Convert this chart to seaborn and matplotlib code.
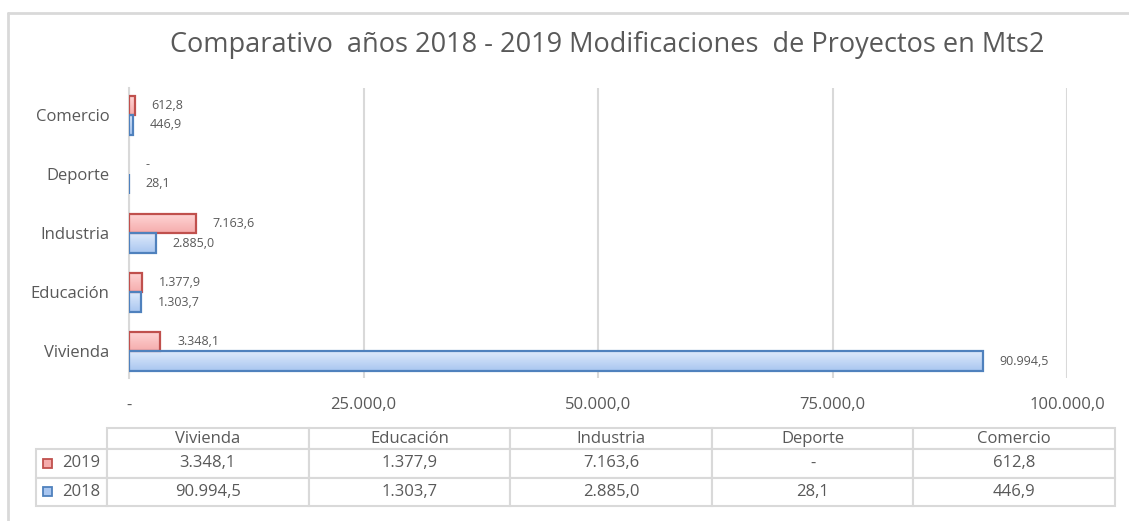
import numpy as np
import pandas as pd
import seaborn as sns
import matplotlib.pyplot as plt
from matplotlib.colors import LinearSegmentedColormap
from matplotlib.patches import Rectangle
from matplotlib.lines import Line2D

# datos (orden de la tabla)
categorias = ['Vivienda', 'Educación', 'Industria', 'Deporte', 'Comercio']
valores_2019 = [3348.1, 1377.9, 7163.6, 0.0, 612.8]
valores_2018 = [90994.5, 1303.7, 2885.0, 28.1, 446.9]
anios = ['2019', '2018']
ticks_x = [0, 25000, 50000, 75000, 100000]
titulo = 'Comparativo  años 2018 - 2019 Modificaciones  de Proyectos en Mts2'


def fmt(v):
    # formato español: 90.994,5
    if v == 0:
        return '-'
    s = f'{v:,.1f}'
    return s.replace(',', 'X').replace('.', ',').replace('X', '.')


df = pd.DataFrame({
    'categoria': categorias * 2,
    'anio': ['2019'] * 5 + ['2018'] * 5,
    'valor': valores_2019 + valores_2018,
})

sns.set_theme(style='white')
plt.rcParams['font.family'] = ['Open Sans', 'DejaVu Sans']
gris = '#595959'
linea = '#D9D9D9'

fig = plt.figure(figsize=(11.29, 5.21), dpi=100)
ax = fig.add_axes([129 / 1129, 143 / 521, 938 / 1129, 290 / 521])

orden_y = categorias[::-1]  # Comercio arriba, Vivienda abajo
sns.barplot(data=df, x='valor', y='categoria', hue='anio', order=orden_y,
            hue_order=anios, orient='h', width=0.66, legend=False, ax=ax,
            palette=['#F8BEBE', '#C3D7F5'])

# relleno degradado y bordes al estilo Excel
estilos = {
    '2019': ('#C0504D', ['#FFD6D6', '#F5ACAC']),
    '2018': ('#4F81BD', ['#DEEAFB', '#A9C6F0']),
}
grad = np.linspace(0, 1, 64).reshape(-1, 1)
for anio, cont in zip(anios, ax.containers):
    borde, cols = estilos[anio]
    cmap = LinearSegmentedColormap.from_list(anio, cols)
    for bar in cont:
        bar.set_zorder(3)
        bar.set_edgecolor(borde)
        bar.set_linewidth(1.6)
        x0, y0 = bar.get_x(), bar.get_y()
        w, h = bar.get_width(), bar.get_height()
        bar.set_facecolor('none')
        if w <= 0:
            bar.set_linewidth(0)
            continue
        im = ax.imshow(grad, cmap=cmap, aspect='auto', origin='upper',
                       extent=(x0, x0 + w, y0 + h, y0), zorder=2.9,
                       interpolation='bicubic')
        im.set_clip_path(bar)
    vals = [v for v in cont.datavalues]
    ax.bar_label(cont, labels=[fmt(v) for v in vals], padding=12,
                 fontsize=9, color=gris)

ax.set_xlim(0, 100000)
ax.set_ylim(len(orden_y) - 0.55, -0.46)
ax.set_xticks(ticks_x)
ax.set_xticklabels([fmt(t) for t in ticks_x])
ax.set_xlabel('')
ax.set_ylabel('')
ax.tick_params(axis='x', length=0, pad=14, labelsize=12, labelcolor=gris)
ax.tick_params(axis='y', length=0, pad=14, labelsize=12, labelcolor=gris)
ax.grid(axis='x', color=linea, linewidth=1.5)
ax.set_axisbelow(True)
for lado in ['top', 'right', 'bottom']:
    ax.spines[lado].set_visible(False)
ax.spines['left'].set_color(linea)
ax.spines['left'].set_linewidth(1.5)
ax.spines['left'].set_zorder(1)

fig.text(607 / 1129, 1 - 45 / 521, titulo, ha='center', va='center',
         fontsize=19.5, color=gris)

# tabla de datos
tab_ax = fig.add_axes([36 / 1129, 15 / 521, 1079 / 1129, 78 / 521])
tab_ax.axis('off')
celdas = [[''] + categorias,
          ['2019'] + [fmt(v) for v in valores_2019],
          ['2018'] + [fmt(v) for v in valores_2018]]
tabla = tab_ax.table(cellText=celdas, cellLoc='center', bbox=[0, 0, 1, 1],
                     colWidths=[71] + [201.6] * 5)
tabla.auto_set_font_size(False)
alturas = [21, 28, 28]
for (r, c), cell in tabla.get_celld().items():
    cell.set_height(alturas[r])
    cell.set_edgecolor(linea)
    cell.set_linewidth(1.5)
    cell.get_text().set_color(gris)
    cell.get_text().set_fontsize(12)
    if r == 0 and c == 0:
        cell.visible_edges = ''
    if c == 0 and r > 0:
        cell._loc = 'right'
        cell.get_text().set_ha('right')

# marcadores de leyenda en la tabla
total = sum(alturas)
for i, anio in enumerate(anios):
    borde, cols = estilos[anio]
    y_centro = 1 - (alturas[0] + alturas[1] * i + alturas[1] / 2) / total
    tab_ax.add_patch(Rectangle((7 / 1079, y_centro - 4.5 / 78), 9 / 1079, 9 / 78,
                               facecolor=cols[1], edgecolor=borde, linewidth=1.3,
                               transform=tab_ax.transAxes, clip_on=False))

# marco del gráfico
fig.add_artist(Line2D([8 / 1129, 8 / 1129], [0, 1 - 13 / 521], color=linea, lw=2))
fig.add_artist(Line2D([8 / 1129, 1], [1 - 13 / 521, 1 - 13 / 521], color=linea, lw=2))

fig.savefig('out.png', dpi=100)
